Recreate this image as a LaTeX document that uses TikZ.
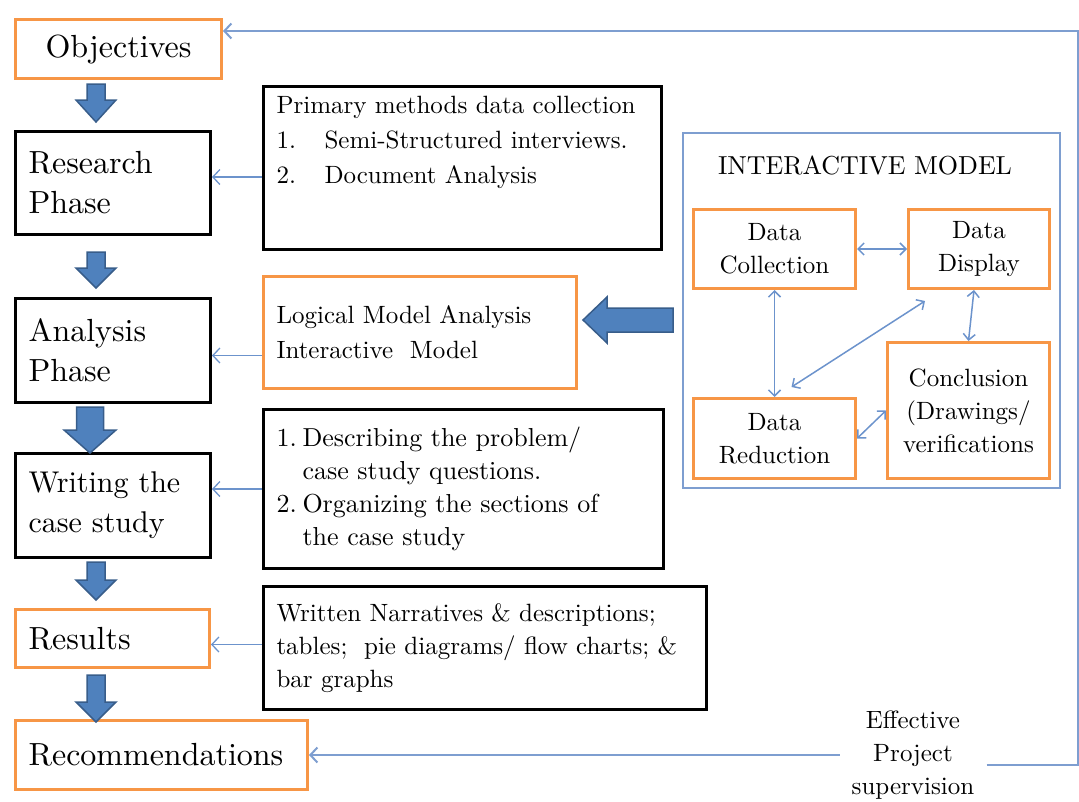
\documentclass[tikz,border=0pt]{standalone}
\usepackage{fontspec}
\setmainfont{lmroman10-regular.otf}
\usetikzlibrary{arrows.meta,calc}
\definecolor{boxorange}{RGB}{247,150,70}
\definecolor{arrowblue}{RGB}{79,129,189}
\definecolor{arrowedge}{RGB}{56,93,138}
\definecolor{linkblue}{RGB}{108,147,204}
\definecolor{panelblue}{RGB}{126,158,208}

\begin{document}
\begin{tikzpicture}[x=1pt,y=-1pt,
  base/.style={draw, line width=3pt, inner sep=0pt, inner xsep=13pt, anchor=north west},
  blackbox/.style={base, draw=black},
  orangebox/.style={base, draw=boxorange},
  bigtext/.style={font=\fontsize{32}{40}\selectfont},
  midtext/.style={font=\fontsize{25}{35}\selectfont},
  modelbox/.style={draw=boxorange, line width=3pt, anchor=north west, align=center,
    inner sep=0pt, font=\fontsize{25}{33}\selectfont},
  blockarrow/.style={fill=arrowblue, draw=arrowedge, line width=1.5pt, line join=miter},
  link/.style={draw=linkblue, line width=1.3pt, -{Straight Barb[length=7pt,width=15pt]}},
  twoway/.style={draw=linkblue, line width=1.5pt,
    {Straight Barb[length=6pt,width=12pt]}-{Straight Barb[length=6pt,width=12pt]}},
  feedback/.style={draw=panelblue, line width=2pt},
  feedarrow/.style={feedback, -{Straight Barb[length=7pt,width=15pt]}},
]
\useasboundingbox (0,0) rectangle (1079,801);

% ---- main sequence of phases ----
\node[orangebox, bigtext, minimum width=206pt, minimum height=59pt, align=center] (obj) at (14,18) {Objectives};
\node[blackbox, bigtext, text width=169pt, minimum height=103pt, align=left] (res) at (14,130) {Research\\Phase};
\node[blackbox, bigtext, text width=169pt, minimum height=104pt, align=left] (ana) at (14,297) {Analysis\\Phase};
\node[blackbox, font=\fontsize{30}{40}\selectfont, text width=169pt, minimum height=104pt, align=left] (wri) at (14,452) {Writing the\\case study};
\node[orangebox, bigtext, text width=168pt, minimum height=58pt, align=left] (resu) at (14,608) {Results};
\node[orangebox, bigtext, text width=266pt, minimum height=69pt, align=left] (rec) at (14,719) {Recommendations};

% block arrows between the phases
\foreach \cx/\top/\hy/\tip/\sw/\hw in {96/84/100/122/9/20, 96/252/268/288/9/20,
    90/407/430/453/13.5/26, 96/562/580/600/9/20, 96/675/702/722/9/20}
  \draw[blockarrow] ({\cx-\sw},\top) -- ({\cx+\sw},\top) -- ({\cx+\sw},\hy) -- ({\cx+\hw},\hy)
    -- (\cx,\tip) -- ({\cx-\hw},\hy) -- ({\cx-\sw},\hy) -- cycle;

% ---- supporting boxes ----
\node[blackbox, midtext, text width=372pt, minimum height=163pt, align=left] (prim) at (262,85)
  {Primary methods data collection\\
   \makebox[48pt][l]{1.}Semi-Structured interviews.\\
   \makebox[48pt][l]{2.}Document Analysis\\[10pt]\strut};
\node[orangebox, midtext, text width=287pt, minimum height=112pt, align=left] (log) at (262,275)
  {Logical Model Analysis\\Interactive\ \ Model};
\node[blackbox, font=\fontsize{26}{33}\selectfont, text width=374pt, minimum height=159pt, align=left] (num) at (262,408)
  {\makebox[26pt][l]{1.}Describing the problem/\\
   \hspace*{26pt}case study questions.\\
   \makebox[26pt][l]{2.}Organizing the sections of\\
   \hspace*{26pt}the case study};
\node[blackbox, font=\fontsize{25}{33}\selectfont, text width=417pt, minimum height=123pt, align=left] (narr) at (262,585)
  {Written Narratives \& descriptions;\\
   tables;\ \ pie diagrams/ flow charts; \&\\
   bar graphs};

% links from supporting boxes to phases
\coordinate (r1) at ([shift={(0,-6)}]res.east);
\coordinate (r2) at ([shift={(0,5)}]ana.east);
\coordinate (r4) at ([shift={(0,6)}]resu.east);
\draw[link] (prim.west |- r1) -- (r1);
\draw[link] (log.west |- r2) -- (r2);
\draw[link] (num.west) -- (num.west -| wri.east);
\draw[link] (narr.west |- r4) -- (r4);

% ---- interactive model panel ----
\node[draw=panelblue, line width=2pt, minimum width=377pt, minimum height=355pt,
  anchor=north west, inner sep=0pt] (panel) at (682,132) {};
\node[font=\fontsize{26}{30}\selectfont] (ttl) at (865,165) {INTERACTIVE MODEL};
\node[modelbox, minimum width=162pt, minimum height=79pt] (dc) at (692,208) {Data\\Collection};
\node[modelbox, minimum width=141pt, minimum height=79pt] (dd) at (907,208) {Data\\Display};
\node[modelbox, minimum width=162pt, minimum height=136pt] (con) at (886,341) {Conclusion\\(Drawings/\\verifications};
\node[modelbox, minimum width=162pt, minimum height=80pt] (dr) at (692,397) {Data\\Reduction};

\draw[twoway] (dc.east) -- (dd.west);
\draw[twoway] (dc.south) -- (dr.north);
\draw[twoway] ([shift={(-5,0)}]dd.south) -- (con.north);
\draw[twoway] ([shift={(-54,11)}]dd.south) -- ([shift={(17,-10)}]dr.north);
\draw[twoway] (dr.east) -- (con.west);

% panel feeds the logical model box
\draw[blockarrow] (673,308) -- (607,308) -- (607,297) -- (583,320) -- (607,343)
  -- (607,332) -- (673,332) -- cycle;

% ---- supervision loop ----
\node[font=\fontsize{25}{33}\selectfont, align=center, inner xsep=12pt] (eff) at (913,755)
  {Effective\\Project\\supervision};
\coordinate (c1) at (1078,765);
\coordinate (c2) at (1078,31);
\draw[feedarrow] (eff.west |- rec.east) -- (rec.east);
\draw[feedarrow] (eff.east |- c1) -- (c1) -- (c2) -- (obj.east |- c2);
\end{tikzpicture}
\end{document}
